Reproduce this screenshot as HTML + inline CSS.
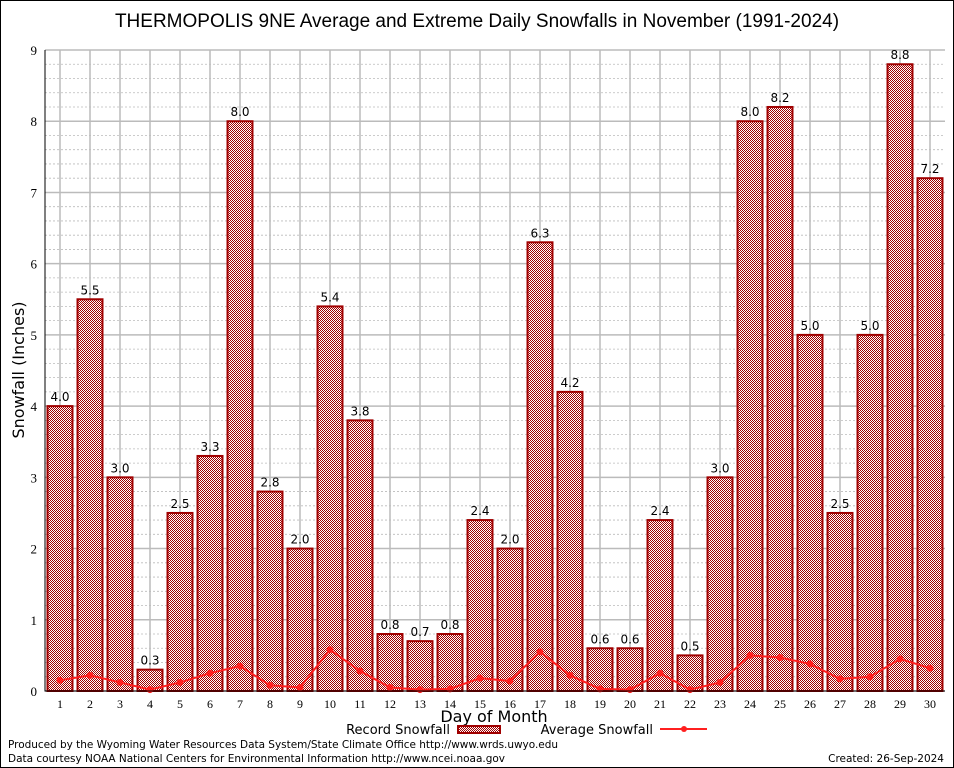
<!DOCTYPE html>
<html><head><meta charset="utf-8"><style>
body{margin:0;background:#fff}
svg{display:block;font-family:"Liberation Sans","DejaVu Sans",sans-serif}
</style></head><body>
<svg id="chart" width="954" height="768" viewBox="0 0 954 768">
<defs>
<pattern id="chk" width="2" height="2" patternUnits="userSpaceOnUse">
<rect width="2" height="2" fill="#fff"/>
<rect width="1" height="1" fill="#a00000"/>
<rect x="1" y="1" width="1" height="1" fill="#a00000"/>
</pattern>
</defs>
<rect x="0.5" y="0.5" width="953" height="767" fill="#fff" stroke="#000"/>
<text x="477" y="27" text-anchor="middle" font-size="19">THERMOPOLIS 9NE Average and Extreme Daily Snowfalls in November (1991-2024)</text>
<g id="grid"></g>
<g id="bars"></g>
<g id="avg"></g>
<g id="axes"></g>
<text x="24" y="370" transform="rotate(-90 24 370)" text-anchor="middle" font-size="16" font-family="DejaVu Sans, sans-serif">Snowfall (Inches)</text>
<text x="494" y="722" text-anchor="middle" font-size="16" font-family="DejaVu Sans, sans-serif">Day of Month</text>
<g font-family="DejaVu Sans, sans-serif">
<text x="450" y="734" text-anchor="end" font-size="13">Record Snowfall</text>
<rect x="458" y="726" width="42" height="7" fill="url(#chk)" stroke="#a00000" stroke-width="2"/>
<text x="653" y="734" text-anchor="end" font-size="13">Average Snowfall</text>
<line x1="660" y1="729" x2="707" y2="729" stroke="#ff2020" stroke-width="2"/>
<circle cx="684" cy="729" r="3" fill="#ff2020"/>
</g>
<text x="8" y="748" font-size="10.5" font-family="DejaVu Sans, sans-serif" textLength="550">Produced by the Wyoming Water Resources Data System/State Climate Office http://www.wrds.uwyo.edu</text>
<text x="8" y="762" font-size="10.5" font-family="DejaVu Sans, sans-serif" textLength="497">Data courtesy NOAA National Centers for Environmental Information http://www.ncei.noaa.gov</text>
<text x="944" y="762" text-anchor="end" font-size="10.5" font-family="DejaVu Sans, sans-serif">Created: 26-Sep-2024</text>
</svg>
<script>
const days=[1,2,3,4,5,6,7,8,9,10,11,12,13,14,15,16,17,18,19,20,21,22,23,24,25,26,27,28,29,30];
const recordValues=[4.0,5.5,3.0,0.3,2.5,3.3,8.0,2.8,2.0,5.4,3.8,0.8,0.7,0.8,2.4,2.0,6.3,4.2,0.6,0.6,2.4,0.5,3.0,8.0,8.2,5.0,2.5,5.0,8.8,7.2];
const averageValues=[0.15,0.22,0.12,0.02,0.12,0.25,0.35,0.08,0.05,0.58,0.28,0.05,0.02,0.03,0.18,0.14,0.55,0.22,0.03,0.02,0.25,0.02,0.12,0.5,0.47,0.38,0.17,0.2,0.45,0.32];
const yTicks=[0,1,2,3,4,5,6,7,8,9];
const NS="http://www.w3.org/2000/svg";
const L=45,R=945,T=50,B=691,yMax=9;
const x=d=>30+30*d;
const y=v=>B-(v/yMax)*(B-T);
function mk(tag,attrs,parent,txt){const e=document.createElementNS(NS,tag);for(const k in attrs)e.setAttribute(k,attrs[k]);if(txt!==undefined)e.textContent=txt;document.getElementById(parent).appendChild(e);return e;}
for(let v=0;v<yMax;v+=0.2){const yy=y(v);if(Math.abs(v-Math.round(v))<1e-6)continue;
const g=mk('line',{x1:L,x2:R,y1:yy,y2:yy,stroke:'#bbb','stroke-dasharray':'2,2','stroke-width':0.8},'grid');

}
yTicks.forEach(v=>{const g=mk('line',{x1:L,x2:R,y1:y(v),y2:y(v),stroke:'#bbb','stroke-width':1.5},'grid');


const t=mk('text',{x:L-8,y:y(v)+5,'text-anchor':'end','font-size':13,'font-family':'Liberation Serif,serif'},'axes',String(v));

});
days.forEach(d=>{const g=mk('line',{x1:x(d),x2:x(d),y1:T,y2:B,stroke:'#bbb','stroke-width':1.5},'grid');

});
days.forEach((d,i)=>{const v=recordValues[i];
const b=mk('rect',{x:x(d)-12.5,y:y(v),width:25,height:B-y(v),fill:'url(#chk)',stroke:'#a00000','stroke-width':2},'bars');


const t=mk('text',{x:x(d),y:y(v)-5,'text-anchor':'middle','font-size':12,'font-family':'DejaVu Sans,sans-serif'},'bars',v.toFixed(1));


const tl=mk('text',{x:x(d),y:B+17,'text-anchor':'middle','font-size':12,'font-family':'Liberation Serif,serif'},'axes',String(d));

});
const pts=days.map((d,i)=>x(d)+','+y(averageValues[i])).join(' ');
const pl=mk('polyline',{points:pts,fill:'none',stroke:'#ff2020','stroke-width':2},'avg');


days.forEach((d,i)=>{const c=mk('circle',{cx:x(d),cy:y(averageValues[i]),r:3.5,fill:'#ff2020'},'avg');

});
const ax=mk('polyline',{points:`${L},${T} ${L},${B} ${R},${B}`,fill:'none',stroke:'#000','stroke-width':1},'axes');


</script>
</body></html>
